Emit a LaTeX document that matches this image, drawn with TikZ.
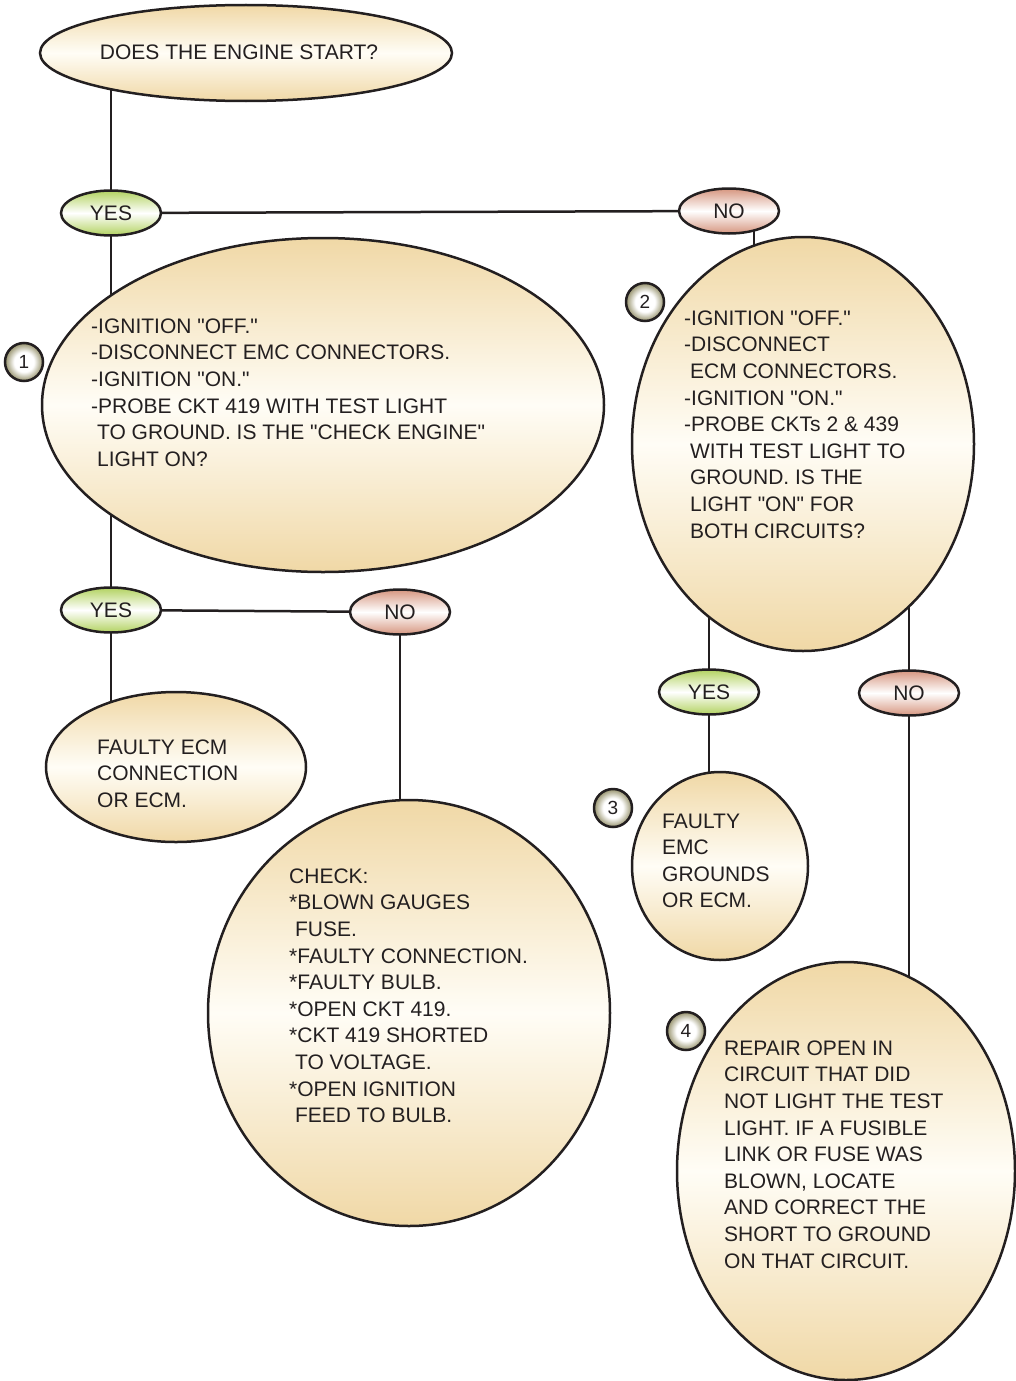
\documentclass[tikz,border=0pt]{standalone}
\usepackage{fontspec}
\setmainfont{Liberation Sans}[Ligatures=TeXOff]
\usetikzlibrary{shapes.geometric, backgrounds}

\definecolor{tanfill}{RGB}{240,216,166}
\definecolor{paleband}{RGB}{255,253,246}
\definecolor{yesgreen}{RGB}{178,210,96}
\definecolor{nored}{RGB}{214,150,128}
\definecolor{numolive}{RGB}{150,146,108}
\definecolor{inkgray}{RGB}{35,31,32}

\newcommand{\indnt}{\hspace*{0.28em}}

\pgfdeclareradialshading{badgeshade}{\pgfpoint{0bp}{0bp}}{%
  color(0bp)=(white); color(13bp)=(white); color(25bp)=(numolive); color(50bp)=(numolive)}

\tikzset{
  bubble/.style={ellipse, draw=inkgray, line width=2.5pt, inner sep=0pt,
    top color=tanfill, bottom color=tanfill, middle color=paleband,
    text=inkgray, font=\fontsize{21}{26.6}\selectfont},
  answer/.style={ellipse, draw=inkgray, line width=2.5pt, inner sep=0pt,
    minimum width=100pt, minimum height=45pt, text=inkgray,
    font=\fontsize{21}{26}\selectfont},
  yesbox/.style={answer, top color=yesgreen, bottom color=yesgreen, middle color=white},
  nobox/.style={answer, top color=nored, bottom color=nored, middle color=white},
  numbadge/.style={circle, draw=inkgray, line width=2.5pt, minimum size=38pt,
    inner sep=0pt, shading=badgeshade, text=inkgray,
    font=\fontsize{19}{20}\selectfont},
  bodytext/.style={anchor=north west, align=left, inner sep=0pt, text=inkgray,
    font=\fontsize{21}{26.6}\selectfont},
  wire/.style={draw=inkgray, line width=2.5pt}
}

\begin{document}
\begin{tikzpicture}[x=1pt, y=-1pt]
  \useasboundingbox (0,0) rectangle (1016,1381);

  % Bubbles
  \node[bubble, minimum width=412pt, minimum height=96pt] (Start) at (246,53) {};
  \node[bubble, minimum width=562pt, minimum height=334pt] (StepOne) at (323,405) {};
  \node[bubble, minimum width=342pt, minimum height=414pt] (StepTwo) at (803,444) {};
  \node[bubble, minimum width=260pt, minimum height=150pt] (FaultEcm) at (176,767) {};
  \node[bubble, minimum width=402pt, minimum height=426pt] (CheckList) at (409,1013) {};
  \node[bubble, minimum width=176pt, minimum height=188pt] (StepThree) at (720,866) {};
  \node[bubble, minimum width=338pt, minimum height=418pt] (StepFour) at (846,1171) {};

  % Answers
  \node[yesbox] (YesA) at (111,213) {YES};
  \node[nobox] (NoA) at (729,211) {NO};
  \node[yesbox] (YesB) at (111,610) {YES};
  \node[nobox] (NoB) at (400,612) {NO};
  \node[yesbox] (YesC) at (709,692) {YES};
  \node[nobox] (NoC) at (909,693) {NO};

  % Step numbers
  \node[numbadge] (NumOne) at (24,362) {1};
  \node[numbadge] (NumTwo) at (645,302) {2};
  \node[numbadge] (NumThree) at (613,808) {3};
  \node[numbadge] (NumFour) at (686,1031) {4};

  % Texts
  \node[bodytext, anchor=center] (TxtStart) at (239,52) {DOES THE ENGINE START?};
  \node[bodytext] (TxtOne) at (91,318.5) {-IGNITION "OFF."\\-DISCONNECT EMC CONNECTORS.\\-IGNITION "ON."\\-PROBE CKT 419 WITH TEST LIGHT\\\indnt TO GROUND. IS THE "CHECK ENGINE"\\\indnt LIGHT ON?};
  \node[bodytext] (TxtTwo) at (684,310.5) {-IGNITION "OFF."\\-DISCONNECT\\\indnt ECM CONNECTORS.\\-IGNITION "ON."\\-PROBE CKTs 2 \& 439\\\indnt WITH TEST LIGHT TO\\\indnt GROUND. IS THE\\\indnt LIGHT "ON" FOR\\\indnt BOTH CIRCUITS?};
  \node[bodytext] (TxtEcm) at (97,739.5) {FAULTY ECM\\CONNECTION\\OR ECM.};
  \node[bodytext] (TxtCheck) at (289,868.5) {CHECK:\\*BLOWN GAUGES\\\indnt FUSE.\\*FAULTY CONNECTION.\\*FAULTY BULB.\\*OPEN CKT 419.\\*CKT 419 SHORTED\\\indnt TO VOLTAGE.\\*OPEN IGNITION\\\indnt FEED TO BULB.};
  \node[bodytext] (TxtThree) at (662,813.5) {FAULTY\\EMC\\GROUNDS\\OR ECM.};
  \node[bodytext] (TxtFour) at (724,1040.5) {REPAIR OPEN IN\\CIRCUIT THAT DID\\NOT LIGHT THE TEST\\LIGHT. IF A FUSIBLE\\LINK OR FUSE WAS\\BLOWN, LOCATE\\AND CORRECT THE\\SHORT TO GROUND\\ON THAT CIRCUIT.};

  % Connectors
  \coordinate (NoAFoot) at ([xshift=25pt]NoA.center);
  \begin{pgfonlayer}{background}
    \draw[wire] (YesA.center) -- (YesA |- Start.center);
    \draw[wire] (YesA.center) -- (NoA.center);
    \draw[wire] (YesA.center) -- (YesA |- StepOne.center);
    \draw[wire] (NoAFoot) -- (NoAFoot |- StepTwo.center);
    \draw[wire] (YesB.center) -- (YesB |- StepOne.center);
    \draw[wire] (YesB.center) -- (NoB.center);
    \draw[wire] (YesB.center) -- (YesB |- FaultEcm.center);
    \draw[wire] (NoB.center) -- (NoB |- CheckList.center);
    \draw[wire] (YesC.center) -- (YesC |- StepTwo.center);
    \draw[wire] (YesC.center) -- (YesC |- StepThree.center);
    \draw[wire] (NoC.center) -- (NoC |- StepTwo.center);
    \draw[wire] (NoC.center) -- (NoC |- StepFour.center);
  \end{pgfonlayer}
\end{tikzpicture}
\end{document}
